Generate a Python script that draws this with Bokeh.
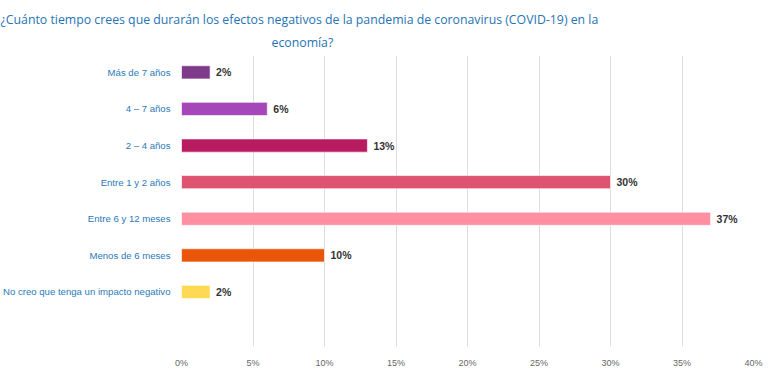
from bokeh.plotting import figure
from bokeh.models import Range1d, FixedTicker, ColumnDataSource, Title
from bokeh.core.properties import value
from bokeh.embed import file_html
from bokeh.resources import INLINE

title_lines = ["¿Cuánto tiempo crees que durarán los efectos negativos de la pandemia de coronavirus (COVID-19) en la",
               "economía?"]
categories = ["Más de 7 años", "4 – 7 años", "2 – 4 años", "Entre 1 y 2 años",
              "Entre 6 y 12 meses", "Menos de 6 meses", "No creo que tenga un impacto negativo"]
percent = [2, 6, 13, 30, 37, 10, 2]
colors = ["#7d3b8a", "#a547b9", "#b81b5f", "#de5370", "#ff8fa1", "#ea5609", "#ffd954"]
x_ticks = [0, 5, 10, 15, 20, 25, 30, 35, 40]

n = len(categories)
ypos = [n - i for i in range(n)]
src = ColumnDataSource(dict(y=ypos, v=percent, c=colors, cat=categories,
                            lbl=[f"{v}%" for v in percent]))

p = figure(width=771, height=370, output_backend="svg", toolbar_location=None,
           x_range=Range1d(0, 40), y_range=Range1d(-0.49, n + 0.46),
           min_border_left=181, min_border_right=18, min_border_top=55, min_border_bottom=21)
p.outline_line_color = None
p.background_fill_color = "white"
p.border_fill_color = "white"

p.hbar(y="y", right="v", left=0, height=0.36, fill_color="c", line_color="white",
       line_alpha=0.6, line_width=1, source=src)
p.text(x="v", y="y", text="lbl", source=src, x_offset=6, text_align="left",
       text_baseline="middle", text_font=value("Liberation Sans"), text_font_size="10.5px",
       text_font_style="bold", text_color="#333333")

xa = p.xaxis[0]
xa.ticker = FixedTicker(ticks=x_ticks)
xa.major_label_overrides = {t: f"{t}%" for t in x_ticks}
xa.axis_line_color = None
xa.major_tick_line_color = None
xa.minor_tick_line_color = None
xa.major_label_standoff = 5
xa.major_label_text_font = "Liberation Sans"
xa.major_label_text_font_size = "9px"
xa.major_label_text_color = "#666666"

ya = p.yaxis[0]
ya.ticker = FixedTicker(ticks=ypos)
ya.major_label_overrides = {y: c for y, c in zip(ypos, categories)}
ya.axis_line_color = None
ya.major_tick_line_color = None
ya.minor_tick_line_color = None
ya.major_label_standoff = 5
ya.major_label_text_font = "Liberation Sans"
ya.major_label_text_font_size = "9.6px"
ya.major_label_text_color = "#2a7ab9"

p.xgrid.ticker = FixedTicker(ticks=x_ticks)
p.xgrid.grid_line_color = "#dddddd"
p.ygrid.grid_line_color = None

offsets = [-181, 90]
standoffs = [2, 6]
for t, off, so in reversed(list(zip(title_lines, offsets, standoffs))):
    p.add_layout(Title(text=t, align="left", offset=off, standoff=so, vertical_align="top",
                       text_font="Open Sans", text_font_size="12.3px",
                       text_font_style="normal", text_color="#1f74b5"), "above")

open("out.html", "w").write(file_html(p, INLINE))
